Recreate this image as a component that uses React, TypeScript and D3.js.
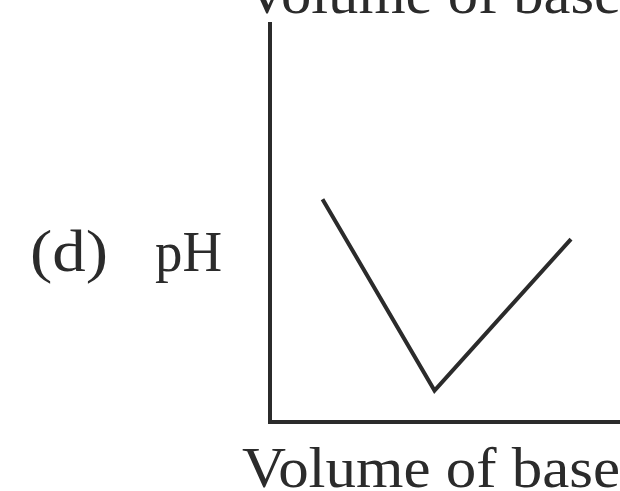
import React from "react";
import * as d3 from "d3";

const volume = [1.5, 4.7, 8.6];
const pH = [7.8, 1.1, 6.4];
const xDomain = [0, 10];
const yDomain = [0, 14];
const axisLabel = "Volume of base";
const yLabel = "pH";
const panelLabel = "(d)";

export default function App() {
  const W = 620, H = 491;
  const x = d3.scaleLinear().domain(xDomain).range([270, 620]);
  const y = d3.scaleLinear().domain(yDomain).range([422, 22]);
  const pts: [number, number][] = volume.map((v, i) => [x(v), y(pH[i])]);
  const line = d3.line<[number, number]>().x(d => d[0]).y(d => d[1]);
  const font = "'Liberation Serif', 'DejaVu Serif', serif";
  const col = "#2b2b2b";
  return (
    <svg width={W} height={H} style={{ position: "fixed", left: 0, top: 0, background: "#fff" }}>
      <rect width={W} height={H} fill="#fff" />
      <text x={245} y={13} fontFamily={font} fontSize={57} fill={col} textLength={376} lengthAdjust="spacingAndGlyphs">{axisLabel}</text>
      <line x1={x(0)} x2={x(0)} y1={y(yDomain[1])} y2={y(0) + 2} stroke={col} strokeWidth={4} />
      <line x1={x(0) - 2} x2={x(xDomain[1])} y1={y(0)} y2={y(0)} stroke={col} strokeWidth={4} />
      <path d={line(pts) || ""} fill="none" stroke={col} strokeWidth={4} strokeLinejoin="miter" />
      <text x={30} y={271} fontFamily={font} fontSize={60} fill={col} textLength={78} lengthAdjust="spacingAndGlyphs">{panelLabel}</text>
      <text x={155} y={271} fontFamily={font} fontSize={58} fill={col} textLength={67} lengthAdjust="spacingAndGlyphs">{yLabel}</text>
      <text x={242} y={487} fontFamily={font} fontSize={57} fill={col} textLength={378} lengthAdjust="spacingAndGlyphs">{axisLabel}</text>
    </svg>
  );
}
